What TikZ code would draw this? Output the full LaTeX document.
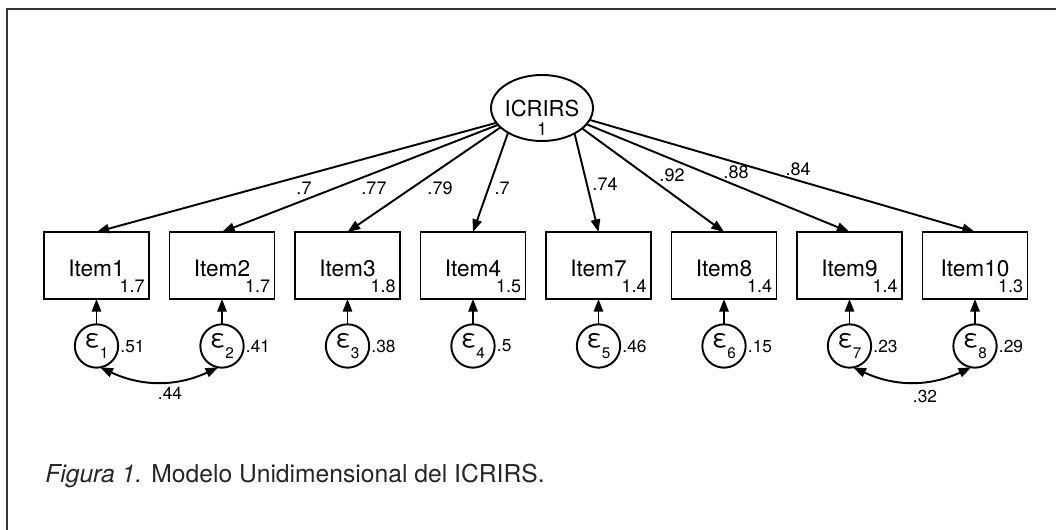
\documentclass[tikz,border=0pt]{standalone}
\usepackage{fontspec}
\setmainfont{TeX Gyre Heros}
\usetikzlibrary{arrows.meta,shapes.geometric}
\tikzset{
  x=0.75pt, y=0.75pt,
  lw/.style={line width=1.45pt},
  arr/.style={lw, -{Triangle[length=9.5pt,width=7pt]}},
  cov/.style={lw, {Triangle[length=9.5pt,width=7pt]}-{Triangle[length=9.5pt,width=7pt]}},
  itembox/.style={draw, lw, rectangle, minimum width=78.75pt, minimum height=50.25pt, inner sep=0pt, outer sep=0pt},
  itemtxt/.style={font=\fontsize{17pt}{17pt}\selectfont, inner sep=0pt},
  meantxt/.style={font=\fontsize{13.5pt}{13.5pt}\selectfont, inner sep=0pt},
  pathlab/.style={font=\fontsize{13.5pt}{13.5pt}\selectfont, inner sep=0pt},
  varlab/.style={font=\fontsize{13pt}{13pt}\selectfont, inner sep=0pt},
  errc/.style={draw, lw, circle, minimum size=32.5pt, inner sep=0pt, outer sep=0pt, font=\fontsize{19pt}{19pt}\selectfont},
  latent/.style={draw, lw, ellipse, minimum width=76.5pt, minimum height=49.5pt, inner sep=0pt, outer sep=0pt},
  frameline/.style={line width=1.3pt, draw=black!80},
}
\newcommand{\errlab}[1]{ε\raisebox{-0.4em}{\fontsize{11.5pt}{11.5pt}\selectfont #1}}
\begin{document}
\begin{tikzpicture}
\useasboundingbox (0,0) rectangle (1056,-530);
% frame
\coordinate (fbl) at (7,-530);
\coordinate (ftl) at (7,-9);
\coordinate (ftr) at (1056,-9);
\draw[frameline] (fbl) -- (ftl) -- (ftr);

% latent
\node[latent] (L) at (542,-108) {};
\node[font=\fontsize{16.5pt}{16.5pt}\selectfont, inner sep=0pt, anchor=base] (Lt) at (542,-117) {ICRIRS};
\node[font=\fontsize{13.5pt}{13.5pt}\selectfont, inner sep=0pt, anchor=base] (Lv) at (542,-136) {1};

% items
\foreach \i/\name/\mean/\err/\var/\ang in {1/Item1/1.7/1/.51/198, 2/Item2/1.7/2/.41/201, 3/Item3/1.8/3/.38/205, 4/Item4/1.5/4/.5/216, 5/Item7/1.4/5/.46/322, 6/Item8/1.4/6/.15/333, 7/Item9/1.4/7/.23/340, 8/Item10/1.3/8/.29/346}{
  \pgfmathsetmacro{\xx}{96.5+125.5*(\i-1)}
  \node[itembox] (b\i) at (\xx,-265.5) {};
  \node[itemtxt] (t\i) at (\xx,-268) {\name};
  \node[meantxt, anchor=base east] (m\i) at ([xshift=-3pt,yshift=5pt]b\i.south east) {\mean};
  \node[errc] (e\i) at (\xx,-346) {\errlab{\err}};
  \node[varlab, anchor=west] (v\i) at ([xshift=1.5pt]e\i.east) {\var};
  \draw[arr] (e\i) -- (b\i);
  \draw[arr] (L.\ang) -- (b\i.north);
}

% path labels
\node[pathlab] (p1) at (304,-188) {.7};
\node[pathlab] (p2) at (374,-188) {.77};
\node[pathlab] (p3) at (440,-188) {.79};
\node[pathlab] (p4) at (502,-188) {.7};
\node[pathlab] (p5) at (605,-184) {.74};
\node[pathlab] (p6) at (672,-175) {.92};
\node[pathlab] (p7) at (736,-172) {.88};
\node[pathlab] (p8) at (798,-169) {.84};

% covariances
\draw[cov] (e1.-80) to[bend right=25] (e2.-100);
\node[varlab] (c12) at (170,-393) {.44};
\draw[cov] (e7.-80) to[bend right=25] (e8.-100);
\node[varlab] (c78) at (925,-396) {.32};

% caption
\node[anchor=base west, inner sep=0pt, font=\fontsize{18.5pt}{18.5pt}\selectfont, text=black!85] (cap) at (45,-483) {\textit{Figura 1.} Modelo Unidimensional del ICRIRS.};
\end{tikzpicture}
\end{document}
